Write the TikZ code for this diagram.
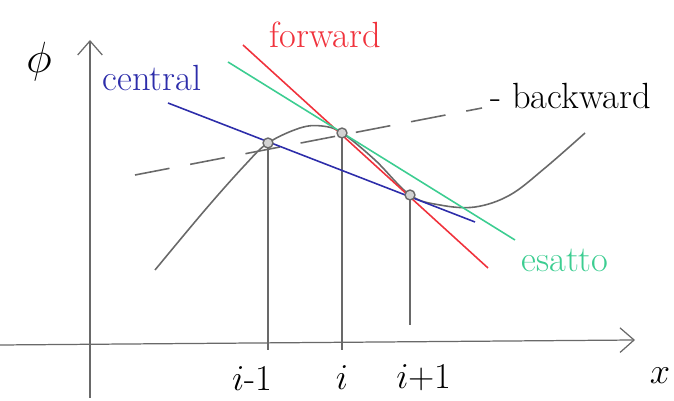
\documentclass[tikz,border=0pt]{standalone}
\usetikzlibrary{arrows.meta}
\definecolor{cblue}{RGB}{45,45,170}
\definecolor{cred}{RGB}{240,50,60}
\definecolor{cgreen}{RGB}{60,205,145}
\definecolor{cgray}{RGB}{105,105,105}
\tikzset{
  axis/.style={cgray, line width=0.7pt, -{Straight Barb[length=8pt,width=14pt]}},
  pt/.style={circle, draw=cgray, fill=cgray!30, inner sep=2pt, line width=0.8pt},
  lbl/.style={font=\huge, inner sep=1pt},
  tang/.style={line width=0.9pt}
}
\begin{document}
\begin{tikzpicture}[x=0.02cm,y=-0.02cm]
\useasboundingbox (0,0) rectangle (674,401);

% axes
\coordinate (xs) at (0,345);
\coordinate (xe) at (635,340);
\coordinate (ys) at (90,398);
\coordinate (ye) at (90,40);
\draw[axis] (xs) -- (xe);
\draw[axis] (ys) -- (ye);
\node[lbl, font=\Huge] (phi) at (39,62) {$\phi$};
\node[lbl] (xl) at (660,376) {$x$};

% the function
\draw[cgray, line width=0.9pt] plot[smooth, tension=0.6] coordinates {
  (155,270) (205,210) (245,165) (268,143) (300,128) (322,126) (342,133)
  (375,160) (410,195) (440,205) (475,207) (510,195) (545,168) (585,133)};

% grid points
\coordinate (pa) at (268,143);
\coordinate (pb) at (342,133);
\coordinate (pc) at (410,195);
\coordinate (fa) at (268,350);
\coordinate (fb) at (342,350);
\coordinate (fc) at (410,325);
\draw[cgray, line width=0.7pt] (pa) -- (fa);
\draw[cgray, line width=0.7pt] (pb) -- (fb);
\draw[cgray, line width=0.7pt] (pc) -- (fc);
\node[lbl] (la) at (252,378) {$i$-1};
\node[lbl] (lb) at (342,378) {$i$};
\node[lbl] (lc) at (424,378) {$i$+1};

% backward
\coordinate (b1) at (135,175);
\coordinate (b2) at (482,108);
\draw[cgray, tang, dash pattern=on 20pt off 12pt] (b1) -- (b2);
\node[lbl, anchor=west] (bw) at (488,96) {- backward};

% central
\coordinate (c1) at (168,103);
\coordinate (c2) at (475,222);
\draw[cblue, tang] (c1) -- (c2);
\node[lbl, cblue] (cl) at (152,78) {central};

% forward
\coordinate (f1) at (243,45);
\coordinate (f2) at (488,268);
\draw[cred, tang] (f1) -- (f2);
\node[lbl, cred] (fl) at (325,35) {forward};

% esatto
\coordinate (e1) at (228,62);
\coordinate (e2) at (515,240);
\draw[cgreen, tang] (e1) -- (e2);
\node[lbl, cgreen] (el) at (565,260) {esatto};

\node[pt] (na) at (pa) {};
\node[pt] (nb) at (pb) {};
\node[pt] (nc) at (pc) {};
\end{tikzpicture}
\end{document}
